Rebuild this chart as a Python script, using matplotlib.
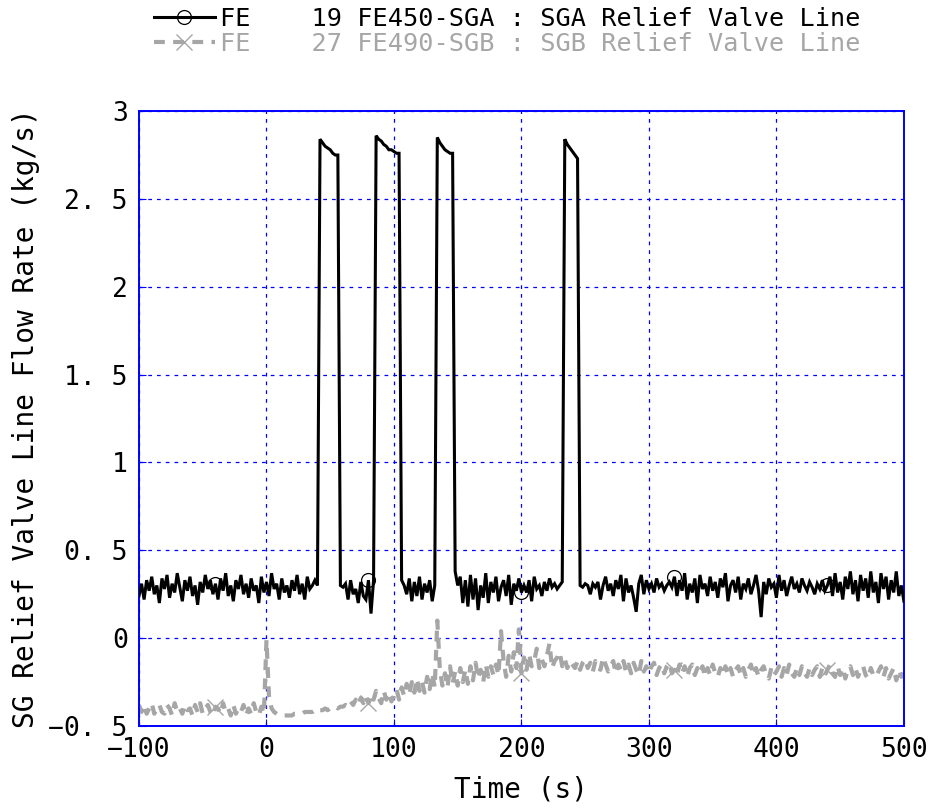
import numpy as np
import matplotlib
matplotlib.use("Agg")
import matplotlib.pyplot as plt

plt.rcParams['font.family'] = ['DejaVu Sans Mono', 'DejaVu Sans']

# time step of both series (s) and start time
t_start = -100
t_step = 2

sga_flow = [
    # t=-100..-62
    0.24,0.31,0.22,0.33,0.27,0.35,0.25,0.30,0.20,0.34,0.28,0.36,0.23,0.31,0.26,0.37,0.29,0.21,0.33,0.27,
    # t=-60..-22
    0.35,0.24,0.30,0.19,0.32,0.26,0.36,0.28,0.33,0.25,0.31,0.22,0.34,0.27,0.37,0.24,0.30,0.21,0.33,0.28,
    # t=-20..18
    0.36,0.25,0.31,0.23,0.34,0.27,0.30,0.20,0.35,0.26,0.32,0.24,0.37,0.28,0.31,0.22,0.34,0.26,0.30,0.23,
    # t=20..38
    0.33,0.27,0.36,0.25,0.31,0.22,0.35,0.28,0.30,0.33,
    # t=40
    0.30,
    # t=42..56 (valve open)
    2.84,2.82,2.80,2.79,2.78,2.76,2.75,2.75,
    # t=58..82
    0.30,0.29,0.31,0.22,0.33,0.25,0.28,0.20,0.32,0.24,0.22,0.33,0.14,
    # t=84
    0.33,
    # t=86..104 (valve open)
    2.86,2.84,2.83,2.81,2.80,2.78,2.78,2.77,2.76,2.76,
    # t=106..132
    0.33,0.30,0.25,0.34,0.21,0.32,0.24,0.35,0.22,0.31,0.26,0.33,0.21,0.30,
    # t=134..146 (valve open)
    2.85,2.82,2.80,2.78,2.77,2.76,2.76,
    # t=148..232
    0.38,0.30,0.35,0.20,0.33,0.18,0.36,0.22,0.34,0.16,0.30,0.23,0.37,0.20,0.32,0.26,0.35,0.21,0.29,0.33,
    0.24,0.36,0.19,0.31,0.27,0.34,0.26,0.30,0.26,0.33,0.21,0.35,0.28,0.30,0.24,0.32,0.27,0.34,0.29,0.31,
    0.28,0.30,0.32,
    # t=234..244 (valve open)
    2.84,2.81,2.79,2.77,2.75,2.73,
    # t=246..500
    0.30,0.29,0.31,0.30,0.25,0.31,0.29,0.32,0.22,0.30,
    0.35,0.27,0.31,0.24,0.33,0.28,0.36,0.21,0.34,0.26,
    0.30,0.23,0.15,0.31,0.36,0.25,0.33,0.28,0.31,0.26,
    0.34,0.29,0.31,0.27,0.30,0.32,0.29,0.35,0.24,0.33,
    0.27,0.37,0.22,0.31,0.26,0.34,0.20,0.36,0.28,0.31,
    0.24,0.35,0.27,0.32,0.23,0.34,0.29,0.37,0.21,0.30,
    0.33,0.26,0.35,0.22,0.31,0.28,0.34,0.25,0.30,0.36,
    0.27,0.12,0.32,0.25,0.34,0.29,0.31,0.23,0.36,0.27,
    0.33,0.24,0.30,0.35,0.28,0.31,0.26,0.34,0.30,0.27,
    0.32,0.29,0.25,0.31,0.28,0.33,0.27,0.30,0.35,0.24,
    0.37,0.26,0.32,0.22,0.35,0.28,0.38,0.25,0.33,0.21,
    0.36,0.27,0.34,0.23,0.38,0.26,0.32,0.20,0.37,0.28,
    0.35,0.22,0.33,0.26,0.38,0.24,0.30,0.21,
]

sgb_flow = [
    -0.38,-0.42,-0.38,-0.43,-0.40,-0.37,-0.43,-0.40,-0.38,-0.42,-0.43,-0.38,-0.40,-0.44,-0.37,-0.42,-0.40,-0.43,-0.38,-0.41,
    -0.40,-0.44,-0.38,-0.42,-0.37,-0.43,-0.40,-0.38,-0.42,-0.44,-0.39,-0.40,-0.43,-0.37,-0.42,-0.40,-0.44,-0.38,-0.43,-0.40,
    -0.42,-0.38,-0.44,-0.40,-0.43,-0.37,-0.42,-0.44,-0.39,-0.43,
    -0.01,-0.33,-0.40,-0.42,-0.43,-0.44,-0.44,-0.44,-0.44,-0.44,
    -0.44,-0.43,-0.43,-0.43,-0.43,-0.42,-0.42,-0.42,-0.42,-0.41,-0.42,-0.41,-0.41,-0.40,-0.41,-0.40,-0.40,-0.39,-0.40,-0.39,
    -0.39,-0.38,-0.39,-0.36,-0.38,-0.35,-0.38,-0.34,-0.37,-0.33,-0.37,-0.32,-0.35,-0.30,-0.34,-0.37,-0.30,-0.35,-0.31,-0.36,
    -0.33,-0.29,-0.35,-0.28,-0.33,-0.26,-0.32,-0.25,-0.31,-0.23,-0.30,-0.25,-0.31,-0.22,-0.29,-0.20,-0.28,0.10,-0.18,-0.27,
    -0.20,-0.28,-0.16,-0.26,-0.19,-0.27,-0.17,-0.25,-0.18,-0.26,-0.16,-0.24,-0.14,-0.23,-0.18,-0.25,-0.15,-0.22,-0.16,-0.21,
    -0.15,-0.21,0.04,-0.13,-0.22,-0.10,-0.19,-0.08,-0.17,0.05,
    -0.20,-0.11,-0.18,-0.09,-0.16,-0.13,-0.06,-0.17,-0.12,-0.16,-0.10,-0.03,-0.17,-0.13,-0.11,-0.08,-0.16,-0.12,-0.17,-0.13,
    -0.15,-0.17,-0.13,-0.18,-0.14,-0.12,-0.17,-0.14,-0.19,-0.13,-0.17,-0.18,-0.11,-0.15,-0.19,-0.16,-0.13,-0.20,-0.15,-0.18,
    -0.13,-0.19,-0.15,-0.20,-0.14,-0.18,-0.21,-0.13,-0.19,-0.16,-0.20,-0.16,-0.14,-0.21,-0.17,-0.15,-0.20,-0.16,-0.14,-0.20,
    -0.18,-0.21,-0.15,-0.20,-0.16,-0.22,-0.17,-0.15,-0.21,-0.17,-0.20,-0.16,-0.22,-0.17,-0.21,-0.15,-0.20,-0.22,-0.17,-0.21,
    -0.16,-0.21,-0.17,-0.22,-0.18,-0.16,-0.21,-0.17,-0.22,-0.18,-0.15,-0.21,-0.17,-0.22,-0.18,-0.16,-0.21,-0.23,-0.17,-0.21,
    -0.19,-0.16,-0.22,-0.17,-0.21,-0.15,-0.20,-0.22,-0.17,-0.21,-0.16,-0.20,-0.22,-0.17,-0.21,-0.18,-0.16,-0.22,-0.17,-0.21,
    -0.18,-0.15,-0.20,-0.22,-0.16,-0.21,-0.17,-0.23,-0.18,-0.16,-0.21,-0.17,-0.22,-0.18,-0.16,-0.21,-0.23,-0.17,-0.21,-0.22,
    -0.19,-0.16,-0.22,-0.17,-0.23,-0.20,-0.17,-0.24,-0.18,-0.22,-0.20,
]

labels = ["FE    19 FE450-SGA : SGA Relief Valve Line",
          "FE    27 FE490-SGB : SGB Relief Valve Line"]
xticks = [-100, 0, 100, 200, 300, 400, 500]
yticks = [-0.5, 0, 0.5, 1, 1.5, 2, 2.5, 3]
ytick_labels = ["\u22120. 5", "0", "0. 5", "1", "1. 5", "2", "2. 5", "3"]
xlabel = "Time (s)"
ylabel = "SG Relief Valve Line Flow Rate (kg/s)"

t_a = t_start + t_step * np.arange(len(sga_flow))
t_b = t_start + t_step * np.arange(len(sgb_flow))

fig = plt.figure(figsize=(9.29, 8.11), dpi=100)
ax = fig.add_axes([0.1496, 0.1048, 0.8234, 0.7582])

gray = '#a6a6a6'
blue = '#0000ff'

ax.plot(t_b, sgb_flow, color=gray, lw=3.0, ls=(0, (2.6, 2.0)),
        marker='x', markevery=(30, 60), ms=12, mew=1.0, mec=gray,
        label=labels[1], zorder=2)
ax.plot(t_a, sga_flow, color='black', lw=2.2, solid_joinstyle='miter',
        marker='o', markevery=(30, 60), ms=10, mew=0.9, mfc='none', mec='black',
        label=labels[0], zorder=3)

ax.set_xlim(-100, 500)
ax.set_ylim(-0.5, 3)
ax.set_xticks(xticks)
ax.set_yticks(yticks)
ax.set_yticklabels(ytick_labels)
ax.grid(True, color=blue, ls=(0, (3, 4)), lw=0.9)
for s in ax.spines.values():
    s.set_color(blue)
    s.set_linewidth(1.4)
ax.tick_params(direction='in', length=5, color=blue, labelsize=19, pad=8)
ax.set_xlabel(xlabel, fontsize=20, labelpad=9)
ax.set_ylabel(ylabel, fontsize=20, labelpad=6)

h, l = ax.get_legend_handles_labels()
leg = fig.legend(h[::-1], l[::-1], loc='upper center', bbox_to_anchor=(0.546, 1.02),
                 frameon=False, fontsize=18.2, handlelength=2.4, handletextpad=0.2,
                 labelspacing=0.05, labelcolor='linecolor', numpoints=1)

fig.savefig("out.png", dpi=100)
